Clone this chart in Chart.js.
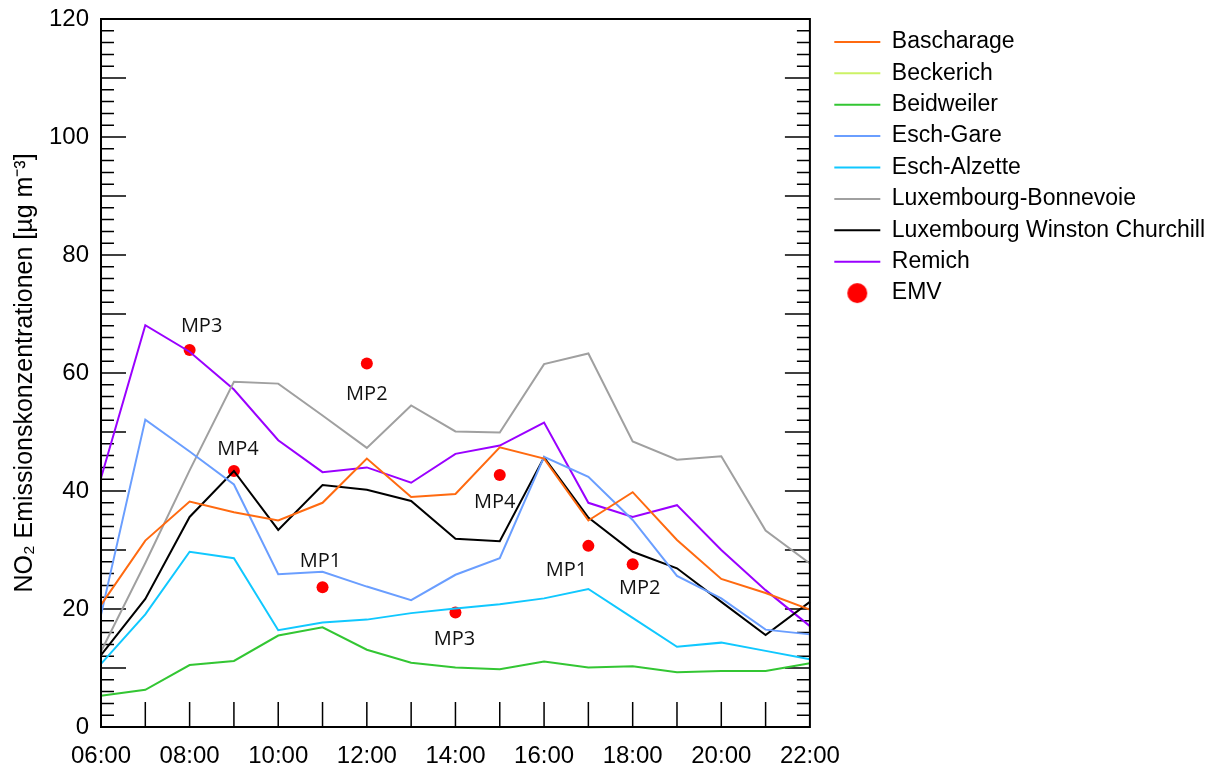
<!DOCTYPE html>
<html>
<head>
<meta charset="utf-8">
<script src="https://cdn.jsdelivr.net/npm/chart.js@4.4.1/dist/chart.umd.min.js"></script>
<style>
  html, body { margin: 0; padding: 0; background: #fff; }
  #wrap { width: 1215px; height: 770px; position: relative; }
</style>
</head>
<body>
<div id="wrap"><canvas id="no2Chart"></canvas></div>
<script>
// Stunden (x-Achse)
const hours = ['06:00', '07:00', '08:00', '09:00', '10:00', '11:00', '12:00', '13:00', '14:00',
               '15:00', '16:00', '17:00', '18:00', '19:00', '20:00', '21:00', '22:00'];

// Messstationen, NO2 in µg m-3
const bascharage  = [20.7, 31.6, 38.2, 36.4, 35.0, 38.0, 45.5, 39.0, 39.5, 47.4, 45.5, 35.0, 39.8, 31.7, 25.1, 22.7, 19.9];
const beckerich   = [null, null, null, null, null, null, null, null, null, null, null, null, null, null, null, null, null];
const beidweiler  = [5.3, 6.3, 10.5, 11.2, 15.5, 16.9, 13.1, 10.9, 10.1, 9.8, 11.1, 10.1, 10.3, 9.3, 9.5, 9.5, 10.8];
const eschGare    = [19.0, 52.1, 46.7, 41.1, 25.9, 26.3, 23.8, 21.5, 25.8, 28.6, 45.8, 42.4, 35.1, 25.6, 21.8, 16.5, 15.7];
const eschAlzette = [10.7, 19.1, 29.7, 28.6, 16.4, 17.7, 18.2, 19.3, 20.1, 20.8, 21.8, 23.4, 18.5, 13.6, 14.3, 12.9, 11.5];
const bonnevoie   = [12.8, 27.8, 43.5, 58.5, 58.2, 52.8, 47.3, 54.5, 50.1, 49.9, 61.5, 63.3, 48.4, 45.3, 45.9, 33.3, 27.7];
const churchill   = [12.2, 21.7, 35.6, 43.4, 33.4, 41.0, 40.2, 38.3, 31.9, 31.5, 45.7, 35.5, 29.7, 26.9, 21.2, 15.6, 21.2];
const remich      = [42.2, 68.1, 63.6, 57.2, 48.6, 43.2, 44.0, 41.4, 46.3, 47.7, 51.6, 38.0, 35.6, 37.6, 30.0, 23.2, 17.1];

// EMV Messpunkte
const emv      = [null, null, 63.9, 43.4, null, 23.7, 61.6, null, 19.4, 42.7, null, 30.7, 27.6, null, null, null, null];
const emvNames = [null, null, 'MP3', 'MP4', null, 'MP1', 'MP2', null, 'MP3', 'MP4', null, 'MP1', 'MP2', null, null, null, null];
// Lage der Beschriftung relativ zum Punkt (px)
const emvLabelShift = [null, null, [12, -24], [4, -22], null, [-2, -26], [0, 31], null, [-1, 27], [-5, 27], null, [-22, 24], [7, 24], null, null, null, null];

Chart.defaults.font.family = '"Liberation Sans", Arial, sans-serif';
Chart.defaults.color = '#000';

function station(label, data, color) {
  return {
    label: label,
    data: data,
    borderColor: color,
    backgroundColor: color,
    borderWidth: 2,
    pointRadius: 0,
    pointHoverRadius: 0,
    pointStyle: 'line',
    tension: 0,
    spanGaps: false
  };
}

// runder Punkt fuer die Legende (sonst wird er mit pointStyleWidth zur Ellipse)
const legendDot = document.createElement('canvas');
legendDot.width = 22;
legendDot.height = 22;
{
  const c = legendDot.getContext('2d');
  c.fillStyle = '#FF0000';
  c.beginPath();
  c.arc(11, 11, 10, 0, Math.PI * 2);
  c.fill();
}

// Rahmen + Teilstriche nach innen
const frameTicks = {
  id: 'frameTicks',
  beforeDatasetsDraw(chart) {
    const {ctx, chartArea: a, scales: {x, y}} = chart;
    ctx.save();
    ctx.strokeStyle = '#000';
    ctx.lineWidth = 1.5;
    ctx.beginPath();
    for (let v = 2; v < 120; v += 2) {
      const py = y.getPixelForValue(v);
      const len = v % 10 === 0 ? 25 : 13;
      ctx.moveTo(a.left, py); ctx.lineTo(a.left + len, py);
      ctx.moveTo(a.right, py); ctx.lineTo(a.right - len, py);
    }
    for (let i = 1; i < hours.length - 1; i++) {
      const px = x.getPixelForValue(i);
      ctx.moveTo(px, a.bottom); ctx.lineTo(px, a.bottom - 25);
    }
    ctx.stroke();
    ctx.restore();
  },
  afterDatasetsDraw(chart) {
    const {ctx, chartArea: a} = chart;
    ctx.save();
    ctx.strokeStyle = '#000';
    ctx.lineWidth = 2;
    ctx.strokeRect(a.left, a.top, a.right - a.left, a.bottom - a.top);
    ctx.restore();
  }
};

// MP-Beschriftungen an den EMV-Punkten
const emvLabels = {
  id: 'emvLabels',
  afterDatasetsDraw(chart) {
    const idx = chart.data.datasets.findIndex(d => d.label === 'EMV');
    const meta = chart.getDatasetMeta(idx);
    const ctx = chart.ctx;
    ctx.save();
    ctx.font = '20px "Open Sans", sans-serif';
    ctx.fillStyle = '#111';
    ctx.textAlign = 'center';
    ctx.textBaseline = 'middle';
    meta.data.forEach((pt, i) => {
      if (emv[i] == null || !emvNames[i]) return;
      const s = emvLabelShift[i];
      ctx.fillText(emvNames[i], pt.x + s[0], pt.y + s[1]);
    });
    ctx.restore();
  }
};

new Chart(document.getElementById('no2Chart'), {
  type: 'line',
  data: {
    labels: hours,
    datasets: [
      station('Bascharage', bascharage, '#FF6A10'),
      station('Beckerich', beckerich, '#CCF266'),
      station('Beidweiler', beidweiler, '#33C633'),
      station('Esch-Gare', eschGare, '#6A9EFF'),
      station('Esch-Alzette', eschAlzette, '#10C8FF'),
      station('Luxembourg-Bonnevoie', bonnevoie, '#A0A0A0'),
      station('Luxembourg Winston Churchill', churchill, '#000000'),
      station('Remich', remich, '#9A00FF'),
      {
        label: 'EMV',
        data: emv,
        showLine: false,
        borderColor: '#FF0000',
        backgroundColor: '#FF0000',
        borderWidth: 0,
        pointRadius: 6,
        pointBorderWidth: 0,
        pointStyle: 'circle'
      }
    ]
  },
  options: {
    responsive: true,
    maintainAspectRatio: false,
    animation: false,
    layout: { padding: { top: 19, right: 0, bottom: 0, left: 0 } },
    plugins: {
      legend: {
        position: 'right',
        align: 'start',
        maxWidth: 420,
        title: { display: true, text: '', font: { size: 1 }, padding: { top: 0, bottom: 1.8 } },
        labels: {
          usePointStyle: true,
          pointStyleWidth: 46,
          boxHeight: 14,
          padding: 8.4,
          color: '#000',
          font: { size: 23 },
          generateLabels(chart) {
            const items = Chart.defaults.plugins.legend.labels.generateLabels(chart);
            items.forEach(it => { if (it.text === 'EMV') it.pointStyle = legendDot; });
            return items;
          }
        }
      },
      tooltip: { enabled: false }
    },
    scales: {
      x: {
        type: 'category',
        grid: { display: false, drawTicks: false },
        border: { display: false },
        ticks: {
          autoSkip: false,
          maxRotation: 0,
          padding: 15,
          font: { size: 24 },
          callback: (v, i) => (i % 2 === 0 ? hours[i] : '')
        },
        afterFit: s => { s.height = 43; }
      },
      y: {
        min: 0,
        max: 120,
        grid: { display: false, drawTicks: false },
        border: { display: false },
        ticks: { stepSize: 20, padding: 12, font: { size: 24 } },
        title: {
          display: true,
          text: 'NO₂ Emissionskonzentrationen [µg m⁻³]',
          font: { size: 25 },
          padding: { top: 10, bottom: 0 }
        },
        afterFit: s => { s.width = 101; s.paddingTop = 0; s.paddingBottom = 0; }
      },
      y2: {
        type: 'linear',
        position: 'right',
        min: 0,
        max: 120,
        grid: { display: false, drawTicks: false },
        border: { display: false },
        ticks: { display: false },
        afterFit: s => { s.width = 16; s.paddingTop = 0; s.paddingBottom = 0; }
      }
    }
  },
  plugins: [frameTicks, emvLabels]
});
</script>
</body>
</html>
